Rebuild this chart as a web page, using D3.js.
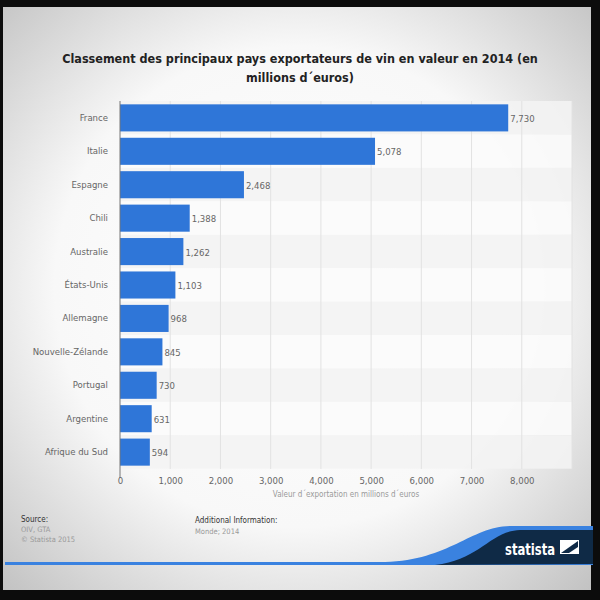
<!DOCTYPE html>
<html><head><meta charset="utf-8">
<script src="https://cdn.jsdelivr.net/npm/d3@7"></script>
<style>body{margin:0;background:#000}svg{display:block}text{font-family:"DejaVu Sans Condensed","DejaVu Sans",sans-serif}</style>
</head><body>
<script>
const countries=["France","Italie","Espagne","Chili","Australie","États-Unis","Allemagne","Nouvelle-Zélande","Portugal","Argentine","Afrique du Sud"];
const values=[7730,5078,2468,1388,1262,1103,968,845,730,631,594];
const xTicks=[0,1000,2000,3000,4000,5000,6000,7000,8000,9000];
const titleLines=["Classement des principaux pays exportateurs de vin en valeur en 2014 (en","millions d´euros)"];

const W=600,H=600;
const FF="DejaVu Sans Condensed";
const svg=d3.select("body").append("svg").attr("width",W).attr("height",H);
const defs=svg.append("defs");
const rg=defs.append("radialGradient").attr("id","vig").attr("cx","50%").attr("cy","48%").attr("r","75%");
rg.append("stop").attr("offset","0%").attr("stop-color","#ffffff");
rg.append("stop").attr("offset","55%").attr("stop-color","#f8f8f8");
rg.append("stop").attr("offset","100%").attr("stop-color","#bdbdbd");
svg.append("rect").attr("width",W).attr("height",H).attr("fill","#0c0c0c");
svg.append("rect").attr("x",3).attr("y",7).attr("width",588).attr("height",583).attr("fill","url(#vig)");

// title
svg.append("g").selectAll("text").data(titleLines).join("text")
 .attr("x",300).attr("y",(d,i)=>63+i*19).attr("text-anchor","middle")
 .attr("font-size",12.5).attr("font-weight","bold").attr("fill","#222").text(d=>d);

const x=d3.scaleLinear().domain([0,9000]).range([120,572]);
const y=d3.scaleBand().domain(countries).range([101,469]).paddingInner(0.19).paddingOuter(0.1);
const step=y.step();

// row bands
svg.append("g").selectAll("rect").data(countries).join("rect")
 .attr("x",120).attr("width",452).attr("y",(d,i)=>101+i*step).attr("height",step)
 .attr("fill",(d,i)=>i%2===0?"#f3f3f3":"#fbfbfb").attr("opacity",0.9);

// gridlines
svg.append("g").selectAll("line").data(xTicks.slice(1)).join("line")
 .attr("x1",d=>x(d)).attr("x2",d=>x(d)).attr("y1",101).attr("y2",469)
 .attr("stroke","#e2e2e2").attr("stroke-width",1);

// bars
svg.append("g").selectAll("rect").data(values).join("rect")
 .attr("x",x(0)).attr("y",(d,i)=>y(countries[i])).attr("height",y.bandwidth())
 .attr("width",d=>x(d)-x(0)).attr("fill","#2f76d8");

// value labels
const fmt=d3.format(",");
svg.append("g").selectAll("text").data(values).join("text")
 .attr("x",d=>x(d)+2).attr("y",(d,i)=>y(countries[i])+y.bandwidth()/2+4)
 .attr("font-size",9.5).attr("fill","#666").text(d=>fmt(d));

// y axis
const ya=svg.append("g").attr("transform","translate(120,0)").call(d3.axisLeft(y).tickSize(0).tickPadding(12));
ya.select(".domain").attr("stroke","#777").attr("d","M0,101V478");
ya.selectAll("text").attr("font-size",9.5).attr("fill","#666").attr("font-family",FF);

// x axis
const xa=svg.append("g").attr("transform","translate(0,469)").call(d3.axisBottom(x).tickValues(xTicks.slice(0,9)).tickFormat(fmt).tickSize(0).tickPadding(8));
xa.select(".domain").remove();
xa.selectAll("text").attr("font-size",9.5).attr("fill","#666").attr("font-family",FF);

svg.append("text").attr("x",346).attr("y",497).attr("text-anchor","middle").attr("font-size",8).attr("fill","#999")
 .text("Valeur d´exportation en millions d´euros");

// footer
svg.append("text").attr("x",21).attr("y",522).attr("font-size",8).attr("fill","#333").text("Source:");
svg.append("text").attr("x",21).attr("y",532).attr("font-size",7.5).attr("fill","#999").text("OIV, GTA");
svg.append("text").attr("x",21).attr("y",542).attr("font-size",7.5).attr("fill","#999").text("© Statista 2015");
svg.append("text").attr("x",195).attr("y",523).attr("font-size",8).attr("fill","#333").text("Additional Information:");
svg.append("text").attr("x",195).attr("y",534).attr("font-size",7.5).attr("fill","#999").text("Monde; 2014");

svg.append("path").attr("d","M5,562 L385,562 C450,560 470,527 510,526 L593,526 L593,565 L5,565 Z").attr("fill","#3a82e0");
svg.append("path").attr("d","M435,565 C480,560 490,531 520,530 L593,530 L593,564 Z").attr("fill","#0f2a46");
svg.append("text").attr("x",505).attr("y",555).attr("font-size",16).attr("font-weight","bold").attr("fill","#fff")
 .attr("textLength",50).attr("lengthAdjust","spacingAndGlyphs").text("statista");
svg.append("rect").attr("x",560).attr("y",540).attr("width",19).attr("height",14).attr("fill","#fff");
svg.append("path").attr("d","M561,553 L578,541 L578,547 L569,553 Z").attr("fill","#0f2a46");
</script>
</body></html>
